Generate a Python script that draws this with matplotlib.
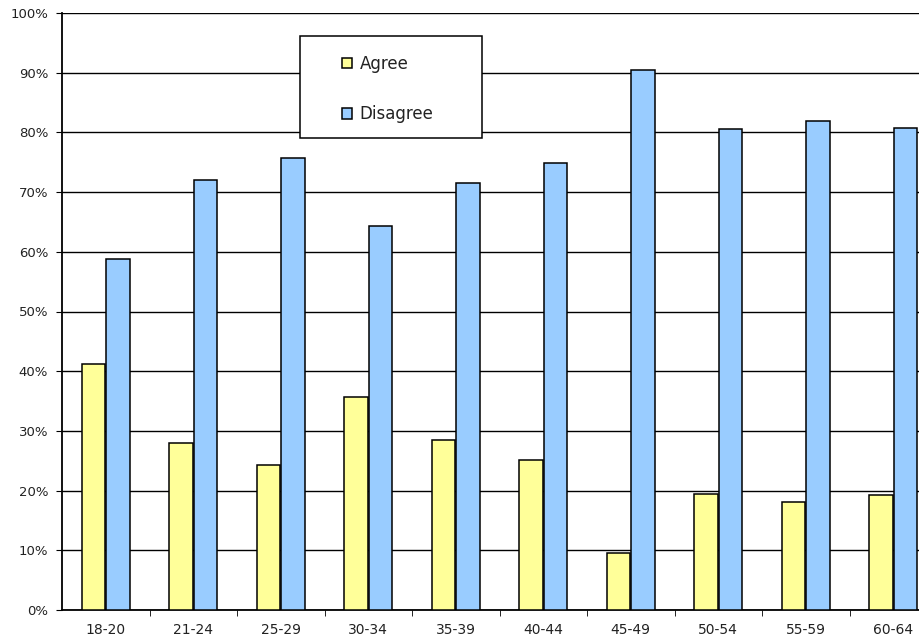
import matplotlib.pyplot as plt
import matplotlib.patches as mpatches
import numpy as np

ages = ['18-20', '21-24', '25-29', '30-34', '35-39', '40-44', '45-49', '50-54', '55-59', '60-64']
agree = [41.2, 28.0, 24.3, 35.7, 28.4, 25.1, 9.6, 19.5, 18.1, 19.3]
disagree = [58.8, 72.0, 75.7, 64.3, 71.6, 74.9, 90.4, 80.5, 81.9, 80.7]

plt.rcParams['font.family'] = 'DejaVu Sans'

fig = plt.figure(figsize=(9.2, 6.39), dpi=100)
ax = fig.add_axes([62/920, 29/639, 875/920, 597/639])

x = np.arange(len(ages))
w = 0.27
ax.bar(x - 0.14, agree, w, color='#ffff99', edgecolor='black', linewidth=1.1, zorder=3, label='Agree')
ax.bar(x + 0.14, disagree, w, color='#99ccff', edgecolor='black', linewidth=1.1, zorder=3, label='Disagree')

ax.set_xlim(-0.5, len(ages) - 0.5)
ax.set_ylim(0, 100)
ax.set_yticks(np.arange(0, 101, 10))
ax.set_yticklabels([f'{v}%' for v in range(0, 101, 10)], fontsize=9.5, color='#222222')
ax.set_xticks(x)
ax.set_xticklabels(ages, fontsize=10, color='#222222')
ax.tick_params(axis='x', length=0, pad=9)
ax.set_xticks(np.arange(0.5, len(ages) - 0.5, 1), minor=True)
ax.tick_params(axis='x', which='minor', length=4, direction='out')
ax.tick_params(axis='y', length=4, direction='out', pad=6)
ax.yaxis.grid(True, color='black', linewidth=1, zorder=0)
ax.set_axisbelow(True)
for s in ['top', 'right']:
    ax.spines[s].set_visible(False)
ax.spines['left'].set_linewidth(1.3)
ax.spines['bottom'].set_linewidth(1.3)

# legend box
box = mpatches.Rectangle((300/920, 1 - 138/639), 182/920, 102/639, transform=fig.transFigure,
                         facecolor='white', edgecolor='black', linewidth=1.1, zorder=5)
fig.patches.append(box)
leg = fig.legend(loc='upper left', bbox_to_anchor=(342/920, 1 - 55/639), frameon=False,
                 fontsize=12, handlelength=0.6, handleheight=0.6, handletextpad=0.45,
                 labelspacing=1.93, borderpad=0, borderaxespad=0)
for t in leg.get_texts():
    t.set_color('#222222')
leg.set_zorder(6)

fig.savefig('out.png', dpi=100)
